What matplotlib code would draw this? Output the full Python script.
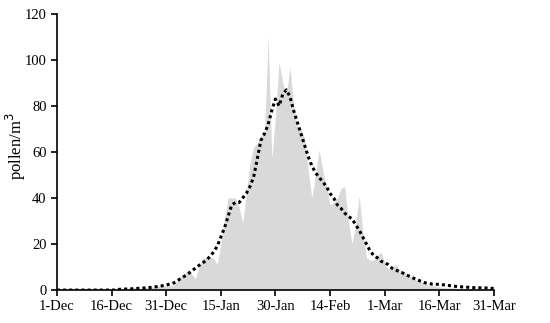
import matplotlib.pyplot as plt
import numpy as np

plt.rcParams['font.family'] = ['Liberation Serif', 'DejaVu Serif']

# Daily pollen counts, 1-Dec to 31-Mar (121 days)
daily_pollen = [0]*17 + [
    0.5, 0.5, 1, 0.5, 1, 1, 0.5, 1,            # 17-24
    1, 1.5, 1, 2, 1.5, 2, 2,                   # 25-31
    2, 4, 6, 7, 9, 7, 5, 10, 14, 14,           # 32-41
    14, 14, 11, 20, 31, 40, 40, 40, 36, 29,    # 42-51
    42, 55, 62, 64, 67, 68, 110, 57, 75, 99,   # 52-61
    90, 85, 97, 80, 71, 70, 66, 52, 40, 50,    # 62-71
    61, 52, 45, 37, 38, 40, 44, 45, 30, 20,    # 72-81
    28, 41, 25, 14, 13, 13, 15, 16.5, 12, 9,   # 82-91
    10, 11, 9, 8, 7, 6, 5, 4, 3.5, 3,          # 92-101
    2, 2, 1.5, 1.5, 1, 1, 1, 1, 0.5, 0.5,      # 102-111
    0.5, 0.5, 0.5, 0, 0, 0, 0, 0, 0,           # 112-120
]

# Smoothed (moving average) curve
smoothed = [0]*17 + [
    0.3, 0.4, 0.45, 0.5, 0.6, 0.7, 0.8, 0.9,   # 17-24
    1, 1.2, 1.4, 1.6, 1.9, 2.2, 2.6,           # 25-31
    3, 4, 5, 6, 7, 8.3, 9.5, 10.7, 11.7, 13,   # 32-41
    14.5, 16.5, 19, 23, 27, 32, 37, 38, 38, 40,  # 42-51
    42, 45, 49, 57, 65, 68, 72, 78, 83, 80,    # 52-61
    85, 87, 84, 78, 73, 68, 63, 58, 54, 51,    # 62-71
    49, 47, 45, 42, 40, 37, 35.5, 33.5, 32, 31,  # 72-81
    28.5, 26, 23, 20, 17, 15, 14, 12.5, 12, 11,  # 82-91
    9.5, 8.8, 8, 7.4, 6.6, 5.8, 5.1, 4.4, 3.8, 3.2,  # 92-101
    2.9, 2.6, 2.5, 2.5, 2.3, 2.1, 1.9, 1.7, 1.5, 1.4,  # 102-111
    1.3, 1.2, 1.1, 1.0, 1.0, 0.9, 0.9, 0.8, 0.7,  # 112-120
]

tick_days = [0, 15, 30, 45, 60, 75, 90, 105, 120]
tick_labels = ['1-Dec', '16-Dec', '31-Dec', '15-Jan', '30-Jan', '14-Feb',
               '1-Mar', '16-Mar', '31-Mar']

days = np.arange(len(daily_pollen))

fig = plt.figure(figsize=(5.5, 3.23), dpi=100)
ax = fig.add_axes([0.1036, 0.102, 0.7944, 0.855])

ax.fill_between(days, daily_pollen, color='#d9d9d9', linewidth=0)
ax.plot(days, smoothed, color='black', linewidth=2.2, linestyle=(0, (1, 1.0)))

ax.set_xlim(0, 120)
ax.set_ylim(0, 120)
ax.set_xticks(tick_days)
ax.set_xticklabels(tick_labels)
ax.set_yticks(range(0, 121, 20))
ax.set_ylabel('pollen/m$^3$', fontsize=12)
ax.yaxis.set_label_coords(-0.066, 0.52)

for side in ['top', 'right']:
    ax.spines[side].set_visible(False)
for side in ['left', 'bottom']:
    ax.spines[side].set_linewidth(1.2)
ax.tick_params(axis='both', labelsize=10.5, direction='out', length=4, width=1.2)

fig.savefig('out.png', dpi=100)
